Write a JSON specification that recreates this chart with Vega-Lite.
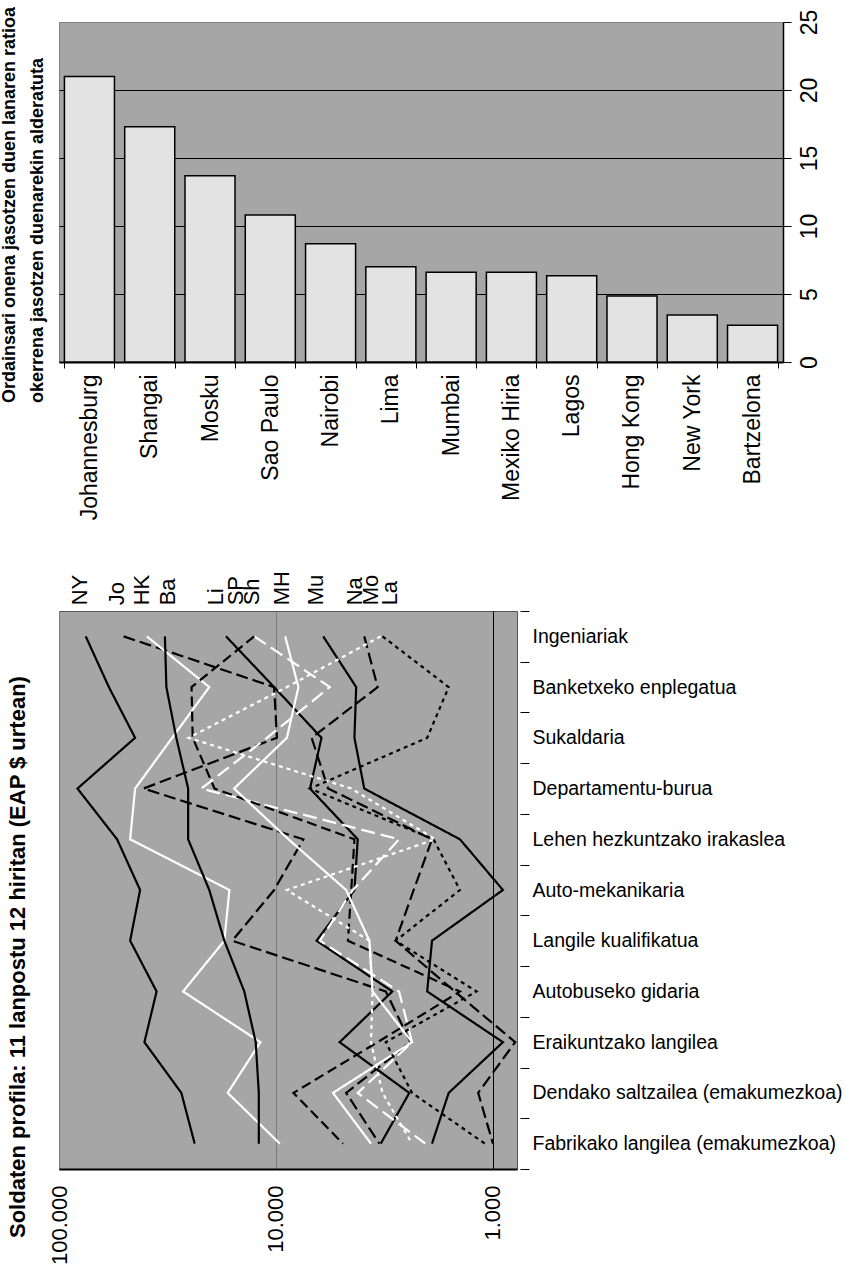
{
  "$schema": "https://vega.github.io/schema/vega-lite/v6.json",
  "background": "white",
  "padding": {"left": 0, "top": 6, "right": 5, "bottom": 0},
  "config": {
    "font": "Liberation Sans",
    "axis": {"labelFont": "Liberation Sans", "labelColor": "black"},
    "text": {"font": "Liberation Sans"},
    "title": {"font": "Liberation Sans", "color": "black"}
  },
  "datasets": {
    "ratios": [
      {"city": "Johannesburg", "ratio": 21.0},
      {"city": "Shangai", "ratio": 17.3},
      {"city": "Mosku", "ratio": 13.7},
      {"city": "Sao Paulo", "ratio": 10.8},
      {"city": "Nairobi", "ratio": 8.7},
      {"city": "Lima", "ratio": 7.0},
      {"city": "Mumbai", "ratio": 6.6},
      {"city": "Mexiko Hiria", "ratio": 6.6},
      {"city": "Lagos", "ratio": 6.35},
      {"city": "Hong Kong", "ratio": 4.85},
      {"city": "New York", "ratio": 3.45},
      {"city": "Bartzelona", "ratio": 2.7}
    ],
    "labels": [
      {"city": "New York", "abbr": "NY", "salary": 80200},
      {"city": "Johannesburg", "abbr": "Jo", "salary": 53800},
      {"city": "Hong Kong", "abbr": "HK", "salary": 41400},
      {"city": "Bartzelona", "abbr": "Ba", "salary": 31500},
      {"city": "Lima", "abbr": "Li", "salary": 19000},
      {"city": "Sao Paulo", "abbr": "SP", "salary": 15300},
      {"city": "Shangai", "abbr": "Sh", "salary": 12900},
      {"city": "Mexiko Hiria", "abbr": "MH", "salary": 9420},
      {"city": "Mumbai", "abbr": "Mu", "salary": 6530},
      {"city": "Nairobi", "abbr": "Na", "salary": 4330},
      {"city": "Mosku", "abbr": "Mo", "salary": 3660},
      {"city": "Lagos", "abbr": "La", "salary": 2970}
    ],
    "wages": [
      {"city": "New York", "job": "Ingeniariak", "salary": 75300},
      {"city": "New York", "job": "Banketxeko enplegatua", "salary": 58900},
      {"city": "New York", "job": "Sukaldaria", "salary": 44600},
      {"city": "New York", "job": "Departamentu-burua", "salary": 82200},
      {"city": "New York", "job": "Lehen hezkuntzako irakaslea", "salary": 54000},
      {"city": "New York", "job": "Auto-mekanikaria", "salary": 42300},
      {"city": "New York", "job": "Langile kualifikatua", "salary": 47000},
      {"city": "New York", "job": "Autobuseko gidaria", "salary": 35500},
      {"city": "New York", "job": "Eraikuntzako langilea", "salary": 40400},
      {"city": "New York", "job": "Dendako saltzailea (emakumezkoa)", "salary": 27300},
      {"city": "New York", "job": "Fabrikako langilea (emakumezkoa)", "salary": 23700},

      {"city": "Johannesburg", "job": "Ingeniariak", "salary": 50400},
      {"city": "Johannesburg", "job": "Banketxeko enplegatua", "salary": 10200},
      {"city": "Johannesburg", "job": "Sukaldaria", "salary": 9900},
      {"city": "Johannesburg", "job": "Departamentu-burua", "salary": 40800},
      {"city": "Johannesburg", "job": "Lehen hezkuntzako irakaslea", "salary": 7480},
      {"city": "Johannesburg", "job": "Auto-mekanikaria", "salary": 10200},
      {"city": "Johannesburg", "job": "Langile kualifikatua", "salary": 15900},
      {"city": "Johannesburg", "job": "Autobuseko gidaria", "salary": 3120},
      {"city": "Johannesburg", "job": "Eraikuntzako langilea", "salary": 2400},
      {"city": "Johannesburg", "job": "Dendako saltzailea (emakumezkoa)", "salary": 4750},
      {"city": "Johannesburg", "job": "Fabrikako langilea (emakumezkoa)", "salary": 3340},

      {"city": "Hong Kong", "job": "Ingeniariak", "salary": 39400},
      {"city": "Hong Kong", "job": "Banketxeko enplegatua", "salary": 20300},
      {"city": "Hong Kong", "job": "Sukaldaria", "salary": 30100},
      {"city": "Hong Kong", "job": "Departamentu-burua", "salary": 44600},
      {"city": "Hong Kong", "job": "Lehen hezkuntzako irakaslea", "salary": 47000},
      {"city": "Hong Kong", "job": "Auto-mekanikaria", "salary": 16400},
      {"city": "Hong Kong", "job": "Langile kualifikatua", "salary": 17300},
      {"city": "Hong Kong", "job": "Autobuseko gidaria", "salary": 26800},
      {"city": "Hong Kong", "job": "Eraikuntzako langilea", "salary": 11800},
      {"city": "Hong Kong", "job": "Dendako saltzailea (emakumezkoa)", "salary": 16700},
      {"city": "Hong Kong", "job": "Fabrikako langilea (emakumezkoa)", "salary": 9600},

      {"city": "Bartzelona", "job": "Ingeniariak", "salary": 32500},
      {"city": "Bartzelona", "job": "Banketxeko enplegatua", "salary": 32000},
      {"city": "Bartzelona", "job": "Sukaldaria", "salary": 28800},
      {"city": "Bartzelona", "job": "Departamentu-burua", "salary": 25400},
      {"city": "Bartzelona", "job": "Lehen hezkuntzako irakaslea", "salary": 25400},
      {"city": "Bartzelona", "job": "Auto-mekanikaria", "salary": 20300},
      {"city": "Bartzelona", "job": "Langile kualifikatua", "salary": 17300},
      {"city": "Bartzelona", "job": "Autobuseko gidaria", "salary": 14000},
      {"city": "Bartzelona", "job": "Eraikuntzako langilea", "salary": 12400},
      {"city": "Bartzelona", "job": "Dendako saltzailea (emakumezkoa)", "salary": 12000},
      {"city": "Bartzelona", "job": "Fabrikako langilea (emakumezkoa)", "salary": 12000},

      {"city": "Lima", "job": "Ingeniariak", "salary": 17000},
      {"city": "Lima", "job": "Banketxeko enplegatua", "salary": 10200},
      {"city": "Lima", "job": "Sukaldaria", "salary": 6170},
      {"city": "Lima", "job": "Departamentu-burua", "salary": 6970},
      {"city": "Lima", "job": "Lehen hezkuntzako irakaslea", "salary": 4200},
      {"city": "Lima", "job": "Auto-mekanikaria", "salary": 4350},
      {"city": "Lima", "job": "Langile kualifikatua", "salary": 6500},
      {"city": "Lima", "job": "Autobuseko gidaria", "salary": 2910},
      {"city": "Lima", "job": "Eraikuntzako langilea", "salary": 5090},
      {"city": "Lima", "job": "Dendako saltzailea (emakumezkoa)", "salary": 2430},
      {"city": "Lima", "job": "Fabrikako langilea (emakumezkoa)", "salary": 3290},

      {"city": "Sao Paulo", "job": "Ingeniariak", "salary": 12600},
      {"city": "Sao Paulo", "job": "Banketxeko enplegatua", "salary": 5650},
      {"city": "Sao Paulo", "job": "Sukaldaria", "salary": 11000},
      {"city": "Sao Paulo", "job": "Departamentu-burua", "salary": 22100},
      {"city": "Sao Paulo", "job": "Lehen hezkuntzako irakaslea", "salary": 2710},
      {"city": "Sao Paulo", "job": "Auto-mekanikaria", "salary": 4420},
      {"city": "Sao Paulo", "job": "Langile kualifikatua", "salary": 6280},
      {"city": "Sao Paulo", "job": "Autobuseko gidaria", "salary": 2710},
      {"city": "Sao Paulo", "job": "Eraikuntzako langilea", "salary": 2360},
      {"city": "Sao Paulo", "job": "Dendako saltzailea (emakumezkoa)", "salary": 4200},
      {"city": "Sao Paulo", "job": "Fabrikako langilea (emakumezkoa)", "salary": 2050},

      {"city": "Shangai", "job": "Ingeniariak", "salary": 12600},
      {"city": "Shangai", "job": "Banketxeko enplegatua", "salary": 24500},
      {"city": "Shangai", "job": "Sukaldaria", "salary": 24200},
      {"city": "Shangai", "job": "Departamentu-burua", "salary": 19200},
      {"city": "Shangai", "job": "Lehen hezkuntzako irakaslea", "salary": 4350},
      {"city": "Shangai", "job": "Auto-mekanikaria", "salary": 4500},
      {"city": "Shangai", "job": "Langile kualifikatua", "salary": 4660},
      {"city": "Shangai", "job": "Autobuseko gidaria", "salary": 1420},
      {"city": "Shangai", "job": "Eraikuntzako langilea", "salary": 3400},
      {"city": "Shangai", "job": "Dendako saltzailea (emakumezkoa)", "salary": 8310},
      {"city": "Shangai", "job": "Fabrikako langilea (emakumezkoa)", "salary": 4910},

      {"city": "Mexiko Hiria", "job": "Ingeniariak", "salary": 9070},
      {"city": "Mexiko Hiria", "job": "Banketxeko enplegatua", "salary": 7880},
      {"city": "Mexiko Hiria", "job": "Sukaldaria", "salary": 8910},
      {"city": "Mexiko Hiria", "job": "Departamentu-burua", "salary": 15600},
      {"city": "Mexiko Hiria", "job": "Lehen hezkuntzako irakaslea", "salary": 8760},
      {"city": "Mexiko Hiria", "job": "Auto-mekanikaria", "salary": 4750},
      {"city": "Mexiko Hiria", "job": "Langile kualifikatua", "salary": 3710},
      {"city": "Mexiko Hiria", "job": "Autobuseko gidaria", "salary": 3590},
      {"city": "Mexiko Hiria", "job": "Eraikuntzako langilea", "salary": 2360},
      {"city": "Mexiko Hiria", "job": "Dendako saltzailea (emakumezkoa)", "salary": 5460},
      {"city": "Mexiko Hiria", "job": "Fabrikako langilea (emakumezkoa)", "salary": 3650},

      {"city": "Mumbai", "job": "Ingeniariak", "salary": 6060},
      {"city": "Mumbai", "job": "Banketxeko enplegatua", "salary": 4270},
      {"city": "Mumbai", "job": "Sukaldaria", "salary": 4350},
      {"city": "Mumbai", "job": "Departamentu-burua", "salary": 3920},
      {"city": "Mumbai", "job": "Lehen hezkuntzako irakaslea", "salary": 1420},
      {"city": "Mumbai", "job": "Auto-mekanikaria", "salary": 900},
      {"city": "Mumbai", "job": "Langile kualifikatua", "salary": 1910},
      {"city": "Mumbai", "job": "Autobuseko gidaria", "salary": 2010},
      {"city": "Mumbai", "job": "Eraikuntzako langilea", "salary": 900},
      {"city": "Mumbai", "job": "Dendako saltzailea (emakumezkoa)", "salary": 1600},
      {"city": "Mumbai", "job": "Fabrikako langilea (emakumezkoa)", "salary": 1910},

      {"city": "Nairobi", "job": "Ingeniariak", "salary": 3920},
      {"city": "Nairobi", "job": "Banketxeko enplegatua", "salary": 3400},
      {"city": "Nairobi", "job": "Sukaldaria", "salary": 6850},
      {"city": "Nairobi", "job": "Departamentu-burua", "salary": 5750},
      {"city": "Nairobi", "job": "Lehen hezkuntzako irakaslea", "salary": 1910},
      {"city": "Nairobi", "job": "Auto-mekanikaria", "salary": 2320},
      {"city": "Nairobi", "job": "Langile kualifikatua", "salary": 2810},
      {"city": "Nairobi", "job": "Autobuseko gidaria", "salary": 1500},
      {"city": "Nairobi", "job": "Eraikuntzako langilea", "salary": 790},
      {"city": "Nairobi", "job": "Dendako saltzailea (emakumezkoa)", "salary": 1170},
      {"city": "Nairobi", "job": "Fabrikako langilea (emakumezkoa)", "salary": 1000},

      {"city": "Mosku", "job": "Ingeniariak", "salary": 3290},
      {"city": "Mosku", "job": "Banketxeko enplegatua", "salary": 8910},
      {"city": "Mosku", "job": "Sukaldaria", "salary": 25300},
      {"city": "Mosku", "job": "Departamentu-burua", "salary": 4500},
      {"city": "Mosku", "job": "Lehen hezkuntzako irakaslea", "salary": 1845},
      {"city": "Mosku", "job": "Auto-mekanikaria", "salary": 8910},
      {"city": "Mosku", "job": "Langile kualifikatua", "salary": 3710},
      {"city": "Mosku", "job": "Autobuseko gidaria", "salary": 3590},
      {"city": "Mosku", "job": "Eraikuntzako langilea", "salary": 3650},
      {"city": "Mosku", "job": "Dendako saltzailea (emakumezkoa)", "salary": 3230},
      {"city": "Mosku", "job": "Fabrikako langilea (emakumezkoa)", "salary": 2360},

      {"city": "Lagos", "job": "Ingeniariak", "salary": 3230},
      {"city": "Lagos", "job": "Banketxeko enplegatua", "salary": 1600},
      {"city": "Lagos", "job": "Sukaldaria", "salary": 2010},
      {"city": "Lagos", "job": "Departamentu-burua", "salary": 6970},
      {"city": "Lagos", "job": "Lehen hezkuntzako irakaslea", "salary": 1880},
      {"city": "Lagos", "job": "Auto-mekanikaria", "salary": 1420},
      {"city": "Lagos", "job": "Langile kualifikatua", "salary": 2810},
      {"city": "Lagos", "job": "Autobuseko gidaria", "salary": 1190},
      {"city": "Lagos", "job": "Eraikuntzako langilea", "salary": 3120},
      {"city": "Lagos", "job": "Dendako saltzailea (emakumezkoa)", "salary": 2360},
      {"city": "Lagos", "job": "Fabrikako langilea (emakumezkoa)", "salary": 1090}
    ]
  },
  "spacing": 49,
  "vconcat": [
    {
      "width": 724,
      "height": 340,
      "data": {"name": "ratios"},
      "view": {"fill": "#a6a6a6", "stroke": "#7f7f7f", "strokeWidth": 1},
      "title": {
        "text": ["Ordainsari onena jasotzen duen lanaren ratioa", "okerrena jasotzen duenarekin alderatuta"],
        "orient": "left",
        "anchor": "start",
        "frame": "group",
        "dx": -41,
        "fontSize": 18,
        "fontWeight": "bold",
        "lineHeight": 28,
        "offset": 1
      },
      "mark": {"type": "bar", "fill": "#e3e3e3", "stroke": "black", "strokeWidth": 1.5},
      "encoding": {
        "x": {
          "field": "city", "type": "nominal", "sort": null, "title": null,
          "scale": {"paddingInner": 0.17, "paddingOuter": 0.09},
          "axis": {
            "labelAngle": -90, "labelAlign": "right", "labelBaseline": "middle",
            "labelFontSize": 23, "labelPadding": 6,
            "tickBand": "extent", "tickSize": 6, "tickColor": "black", "tickWidth": 1,
            "domainColor": "black", "domainWidth": 2, "grid": false
          }
        },
        "y": {
          "field": "ratio", "type": "quantitative", "title": null,
          "scale": {"domain": [0, 25], "nice": false},
          "axis": {
            "orient": "right", "values": [0, 5, 10, 15, 20, 25],
            "labelAngle": -90, "labelAlign": "center", "labelBaseline": "top",
            "labelFontSize": 23, "labelPadding": 7,
            "tickSize": 8, "tickColor": "black", "tickWidth": 1,
            "domainColor": "black", "domainWidth": 1.5,
            "grid": true, "gridColor": "black", "gridWidth": 1.2,
            "gridOpacity": {"condition": {"test": "datum.value >= 25", "value": 0}, "value": 1}
          }
        }
      }
    },
    {
      "width": 458,
      "height": 558,
      "view": {"fill": "#a6a6a6", "stroke": "#555555", "strokeWidth": 1},
      "title": {
        "text": "Soldaten profila: 11 lanpostu 12 hiritan (EAP $ urtean)",
        "orient": "left",
        "anchor": "start",
        "frame": "group",
        "dx": -69,
        "fontSize": 22,
        "fontWeight": "bold",
        "offset": 18
      },
      "layer": [
        {
          "data": {"name": "wages"},
          "mark": {"type": "line", "strokeWidth": 2.2, "orient": "horizontal"},
          "encoding": {
            "x": {
              "field": "salary", "type": "quantitative", "title": null,
              "scale": {"type": "log", "domain": [775, 100000], "reverse": true, "nice": false},
              "axis": {
                "values": [1000, 10000, 100000],
                "labelExpr": "replace(format(datum.value, ','), ',', '.')",
                "labelAngle": -90, "labelAlign": "right", "labelBaseline": "middle",
                "labelFontSize": 22, "labelPadding": 16, "ticks": false,
                "domainColor": "black", "domainWidth": 2,
                "grid": true,
                "gridColor": {"condition": {"test": "datum.value == 1000", "value": "black"}, "value": "#7a7a7a"},
                "gridWidth": 1
              }
            },
            "y": {
              "field": "job", "type": "nominal", "title": null,
              "sort": ["Ingeniariak", "Banketxeko enplegatua", "Sukaldaria", "Departamentu-burua", "Lehen hezkuntzako irakaslea", "Auto-mekanikaria", "Langile kualifikatua", "Autobuseko gidaria", "Eraikuntzako langilea", "Dendako saltzailea (emakumezkoa)", "Fabrikako langilea (emakumezkoa)"],
              "scale": {"type": "band", "paddingInner": 0, "paddingOuter": 0},
              "axis": {
                "orient": "right", "tickBand": "extent", "domain": false, "offset": 3,
                "tickSize": 9, "tickColor": "black", "tickWidth": 1,
                "labelPadding": 3, "labelFontSize": 19.5, "labelLimit": 400, "grid": false
              }
            },
            "color": {
              "field": "city", "type": "nominal", "legend": null,
              "scale": {
                "domain": ["New York", "Johannesburg", "Hong Kong", "Bartzelona", "Lima", "Sao Paulo", "Shangai", "Mexiko Hiria", "Mumbai", "Nairobi", "Mosku", "Lagos"],
                "range": ["black", "black", "white", "black", "black", "white", "black", "white", "black", "black", "white", "black"]
              }
            },
            "strokeDash": {
              "field": "city", "type": "nominal", "legend": null,
              "scale": {
                "domain": ["New York", "Johannesburg", "Hong Kong", "Bartzelona", "Lima", "Sao Paulo", "Shangai", "Mexiko Hiria", "Mumbai", "Nairobi", "Mosku", "Lagos"],
                "range": [[1, 0], [12, 5], [1, 0], [1, 0], [1, 0], [14, 6], [10, 5], [1, 0], [1, 0], [12, 5], [4, 4], [4, 4]]
              }
            }
          }
        },
        {
          "data": {"name": "labels"},
          "mark": {"type": "text", "angle": 270, "align": "left", "baseline": "middle", "dx": 31, "fontSize": 22, "color": "black"},
          "encoding": {
            "x": {"field": "salary", "type": "quantitative", "title": null},
            "y": {"datum": "Ingeniariak", "type": "nominal", "title": null},
            "text": {"field": "abbr"}
          }
        }
      ]
    }
  ]
}
